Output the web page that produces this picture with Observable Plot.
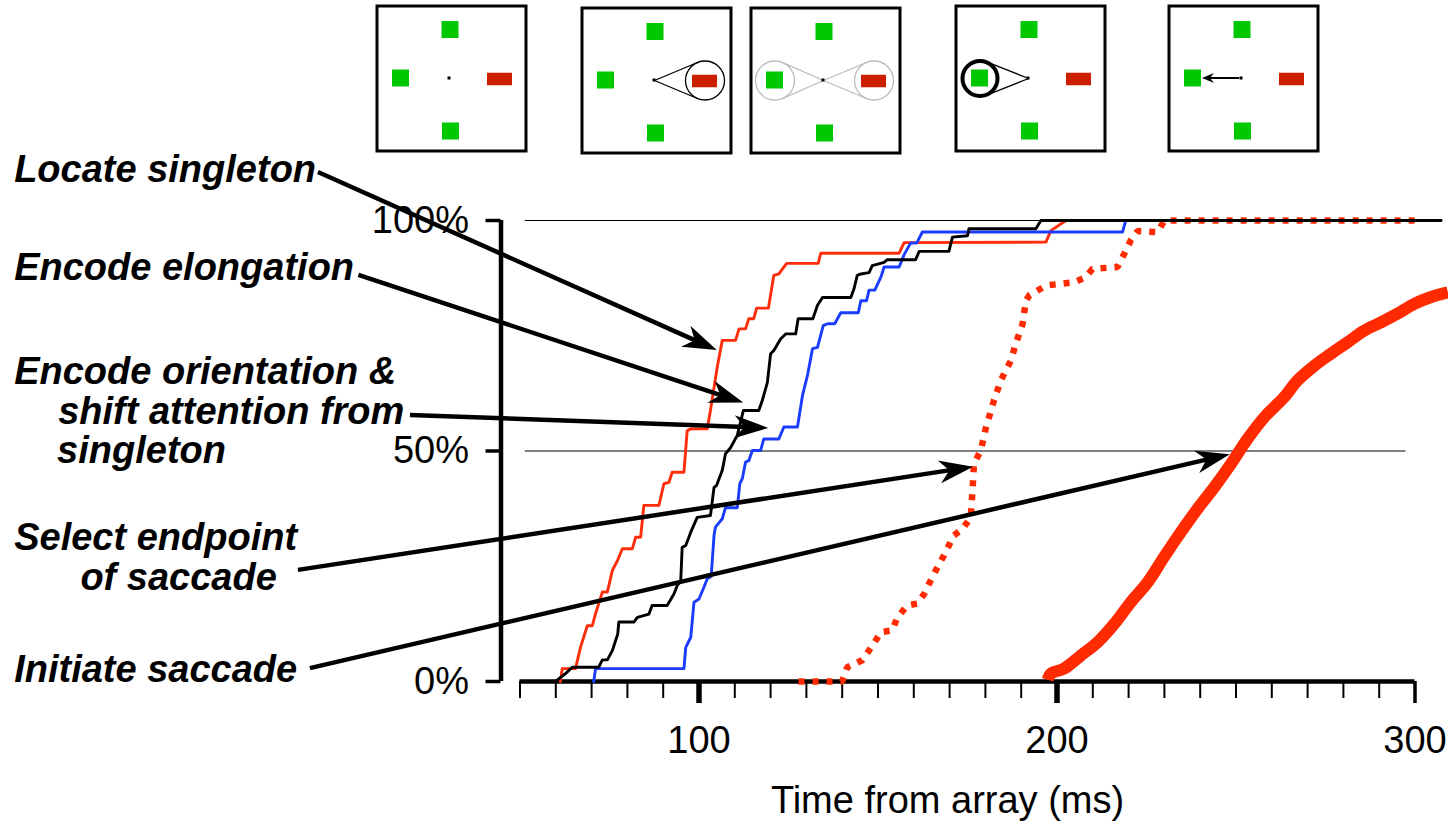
<!DOCTYPE html>
<html>
<head>
<meta charset="utf-8">
<script src="https://cdn.jsdelivr.net/npm/d3@7"></script>
<script src="https://cdn.jsdelivr.net/npm/@observablehq/plot@0.6"></script>
<style>
  html, body { margin: 0; padding: 0; background: #fff; }
  #chart svg { display: block; }
</style>
</head>
<body>
<div id="chart"></div>
<script>
// ---------------- DATA ----------------
// Cumulative % of trials vs time from array (ms)
const locateT = [61.3, 61.8, 65.5, 66.9, 68.8, 70.2, 71.1, 73.0, 74.4, 75.8, 77.2, 78.6, 81.4, 82.3, 83.7, 84.6, 88.8, 90.2, 91.6, 92.5, 95.8, 96.7, 97.7, 102.3, 103.2, 105.1, 106.5, 110.2, 111.2, 113.0, 113.9, 115.3, 116.1, 119.4, 120.9, 122.3, 124.5, 133.3, 134.0, 155.9, 157.3, 196.9, 198.3, 202.5, 300];
const locateP = [0, 2.8, 2.8, 7.4, 12.1, 12.1, 14.7, 19.4, 19.4, 24.1, 26.2, 28.8, 28.8, 31.3, 31.3, 38.2, 38.2, 42.9, 43.2, 45.4, 45.4, 54.4, 54.8, 54.8, 58.8, 68.2, 74.0, 74.0, 76.5, 76.5, 78.7, 78.7, 81.0, 81.0, 88.1, 88.4, 90.7, 90.7, 92.9, 92.9, 95.2, 95.3, 97.8, 100, 100];

const elongT = [59.9, 62.7, 64.6, 72.0, 73.0, 74.4, 75.8, 77.3, 77.6, 81.8, 82.8, 86.0, 86.9, 91.1, 93.0, 93.9, 94.9, 95.3, 96.3, 97.7, 99.5, 103.2, 104.2, 104.9, 106.5, 107.4, 108.8, 110.7, 112.4, 116.7, 117.7, 119.1, 120.0, 120.9, 122.8, 124.2, 127.0, 127.7, 131.8, 133.1, 134.5, 142.4, 143.3, 144.2, 145.2, 147.5, 148.4, 151.7, 152.6, 160.5, 161.5, 169.8, 170.8, 175.0, 175.4, 194.1, 195.5, 307.3];
const elongP = [0, 1.7, 3.1, 3.1, 4.7, 4.7, 6.7, 10.3, 12.9, 12.9, 13.9, 14.6, 16.5, 16.5, 19.0, 20.8, 21.9, 29.1, 29.5, 32.4, 35.6, 36.0, 42.1, 42.5, 45.8, 49.4, 50.7, 53.4, 58.8, 58.8, 61.0, 64.9, 71.1, 71.8, 74.3, 75.4, 75.4, 78.7, 78.7, 81.6, 83.3, 83.3, 85.2, 88.1, 88.4, 88.7, 90.2, 90.9, 91.5, 91.5, 93.3, 93.3, 96.4, 96.7, 98.2, 98.2, 100, 100];

const orientT = [70.6, 71.1, 95.8, 96.3, 97.7, 98.6, 100.0, 101.4, 102.3, 103.4, 104.2, 104.6, 106.5, 107.4, 110.7, 111.4, 112.1, 113.0, 113.9, 114.9, 117.2, 118.1, 122.3, 123.7, 127.5, 128.9, 130.3, 131.7, 133.1, 134.7, 135.9, 137.9, 139.6, 144.5, 145.2, 146.8, 147.5, 149.1, 150.8, 151.7, 155.9, 157.3, 159.1, 160.8, 162.4, 218.3, 219.2, 300];
const orientP = [0, 2.8, 2.8, 7.4, 9.6, 17.2, 17.9, 20.5, 22.3, 22.8, 31.7, 33.5, 35.3, 37.7, 37.7, 42.9, 44.0, 47.6, 47.9, 50.1, 50.1, 52.6, 52.6, 55.2, 55.2, 62.0, 66.4, 72.2, 72.5, 77.2, 77.6, 77.6, 80.0, 80.0, 82.6, 82.6, 84.9, 84.9, 87.7, 89.9, 89.9, 92.6, 95.1, 95.1, 97.5, 97.5, 100, 100];

const selectT = [127.8, 140.0, 141.4, 145.6, 148.9, 150.8, 154.0, 155.4, 158.2, 161.0, 162.9, 164.7, 166.6, 168.4, 171.2, 173.6, 175.9, 176.4, 176.8, 178.7, 180.1, 182.4, 184.3, 187.1, 188.5, 190.4, 191.3, 192.2, 196.9, 204.8, 208.0, 209.9, 216.9, 218.8, 220.6, 222.5, 228.1, 230.0, 300];
const selectP = [0, 0, 3.1, 4.6, 8.3, 10.7, 11.1, 13.9, 16.5, 16.9, 19.0, 21.9, 24.8, 27.3, 31.7, 33.1, 35.6, 41.4, 47.2, 50.1, 54.9, 61.0, 65.3, 69.6, 73.3, 77.6, 82.6, 83.7, 85.9, 86.6, 87.7, 89.5, 89.9, 92.8, 95.7, 97.7, 97.5, 100, 100];

const initiateT = [197.4, 198.3, 202.0, 206.6, 211.3, 216.0, 220.6, 225.3, 229.9, 234.6, 239.3, 243.9, 248.6, 253.2, 257.9, 263.5, 267.2, 271.9, 276.5, 281.2, 285.8, 290.5, 295.2, 299.8, 304.5, 309.2];
const initiateP = [0.4, 1.7, 2.8, 5.6, 8.5, 12.5, 17.2, 21.5, 27.0, 32.4, 37.5, 42.1, 47.2, 52.6, 57.3, 61.7, 65.3, 68.5, 71.1, 73.6, 76.1, 77.9, 79.8, 81.9, 83.4, 84.4];

// axis ticks
const xMinorTicks = d3.range(50, 301, 10);
const xMajorTicks = [100, 200];
const xEndTick = [300];
const yTicks = [0, 50, 100];
const xTitle = "Time from array (ms)";

// reference lines (value, extent in ms)
const refY = [100, 50];
const refX1 = [51.5, 51.5];
const refX2 = [307.3, 297.5];

// stage labels (text lines, anchored in chart units: ms, %)
const labelLines = ["Locate singleton", "Encode elongation", "Encode orientation &", "shift attention from", "singleton", "Select endpoint", "of saccade", "Initiate saccade"];
const labelX = [-91.3, -91.3, -91.3, -79.0, -79.3, -91.3, -72.8, -91.3];
const labelY = [108.35, 87.2, 64.64, 55.75, 47.29, 28.63, 19.74, 0];

// annotation arrows (from label to curve), chart units
const arrowX1 = [-6.3, 5.0, 19.4, -11.9, -8.55];
const arrowY1 = [110.4, 88.1, 57.7, 24.1, 2.8];
const arrowX2 = [105.1, 112.5, 119.5, 176.7, 248.4];
const arrowY2 = [71.8, 60.4, 54.9, 46.5, 49.2];

// ---------------- helpers ----------------
const FONT = "'Liberation Sans', Arial, Helvetica, sans-serif";
const zipSeries = (T, P) => T.map((t, i) => ({t, p: P[i]}));

function arrowLayer(rows, {shaft, headLength, headWidth, notch}) {
  return (index, scales) => {
    const g = d3.create("svg:g");
    for (const a of rows) {
      const x1 = scales.x(a.x1), y1 = scales.y(a.y1);
      const x2 = scales.x(a.x2), y2 = scales.y(a.y2);
      const len = Math.hypot(x2 - x1, y2 - y1);
      const ux = (x2 - x1) / len, uy = (y2 - y1) / len;
      const nx = -uy, ny = ux;
      const bx = x2 - ux * notch, by = y2 - uy * notch;
      g.append("line")
        .attr("x1", x1).attr("y1", y1)
        .attr("x2", bx + ux).attr("y2", by + uy)
        .attr("stroke", "black").attr("stroke-width", shaft);
      const pts = [
        [x2, y2],
        [x2 - ux * headLength + nx * headWidth, y2 - uy * headLength + ny * headWidth],
        [bx, by],
        [x2 - ux * headLength - nx * headWidth, y2 - uy * headLength - ny * headWidth]
      ];
      g.append("path").attr("d", "M" + pts.map(p => p.join(",")).join("L") + "Z").attr("fill", "black");
    }
    return g.node();
  };
}

// ---------------- icon strip ----------------
const panelLeft = [377, 582, 751, 956, 1169];
const panelTop = [6, 8, 8, 6, 6];
const PW = 149, PH = 145;
const fix = {cx: 72, cy: 72};
const stimItems = [
  {name: "top", cx: 73, cy: 23.5, w: 17, h: 17, color: "#00c800"},
  {name: "bottom", cx: 73.5, cy: 125, w: 17, h: 17, color: "#00c800"},
  {name: "left", cx: 23.5, cy: 72, w: 17, h: 17, color: "#00c800"},
  {name: "target", cx: 122.5, cy: 73, w: 25, h: 12.5, color: "#cc1f00"}
];
const panelFocus = [[], ["target"], ["left", "target"], ["left"], []];
const panelFocusStyle = [null, "thin", "grey", "thick", null];

const squares = [];
panelLeft.forEach((L, i) => {
  const T = panelTop[i];
  for (const s of stimItems) squares.push({x1: L + s.cx - s.w / 2, x2: L + s.cx + s.w / 2, y1: T + s.cy - s.h / 2, y2: T + s.cy + s.h / 2, color: s.color});
  squares.push({x1: L + fix.cx - 1.5, x2: L + fix.cx + 1.5, y1: T + fix.cy - 1.5, y2: T + fix.cy + 1.5, color: "black"});
});
const frames = panelLeft.map((L, i) => ({x1: L, x2: L + PW, y1: panelTop[i], y2: panelTop[i] + PH}));

const circles = [], cones = [];
panelFocus.forEach((names, i) => {
  const L = panelLeft[i], T = panelTop[i], style = panelFocusStyle[i];
  for (const n of names) {
    const s = stimItems.find(d => d.name === n);
    const r = style === "thick" ? 18 : 19.5;
    const cx = L + s.cx, cy = T + fix.cy;
    const px = L + fix.cx, py = T + fix.cy;
    circles.push({x: cx, y: cy, r, style});
    const d = Math.abs(cx - px), dir = Math.sign(cx - px);
    const th = Math.acos(r / d);
    for (const sgn of [-1, 1]) {
      cones.push({x1: px, y1: py, x2: cx - dir * r * Math.cos(th), y2: cy + sgn * r * Math.sin(th), style});
    }
  }
});
const saccade = [{x1: panelLeft[4] + 70, y1: panelTop[4] + fix.cy, x2: panelLeft[4] + 33, y2: panelTop[4] + fix.cy}];

const icons = Plot.plot({
  width: 1448, height: 160,
  marginTop: 0, marginRight: 0, marginBottom: 0, marginLeft: 0,
  x: {domain: [0, 1448], range: [0, 1448], axis: null},
  y: {domain: [0, 160], range: [0, 160], axis: null},
  style: {background: "white", overflow: "visible"},
  marks: [
    Plot.rect(frames, {x1: "x1", x2: "x2", y1: "y1", y2: "y2", fill: "none", stroke: "black", strokeWidth: 3}),
    Plot.link(cones.filter(d => d.style === "grey"), {x1: "x1", y1: "y1", x2: "x2", y2: "y2", stroke: "#bdbdbd", strokeWidth: 1.3}),
    Plot.link(cones.filter(d => d.style !== "grey"), {x1: "x1", y1: "y1", x2: "x2", y2: "y2", stroke: "black", strokeWidth: 1.3}),
    Plot.rect(squares, {x1: "x1", x2: "x2", y1: "y1", y2: "y2", fill: "color"}),
    Plot.dot(circles.filter(d => d.style === "grey"), {x: "x", y: "y", r: 19.5, stroke: "#bdbdbd", strokeWidth: 1.3, fill: "none"}),
    Plot.dot(circles.filter(d => d.style === "thin"), {x: "x", y: "y", r: 19.5, stroke: "black", strokeWidth: 1.3, fill: "none"}),
    Plot.dot(circles.filter(d => d.style === "thick"), {x: "x", y: "y", r: 17.5, stroke: "black", strokeWidth: 4, fill: "none"}),
    arrowLayer(saccade, {shaft: 2, headLength: 12, headWidth: 5, notch: 8})
  ]
});

// ---------------- main chart ----------------
const refRows = refY.map((y, i) => ({y, x1: refX1[i], x2: refX2[i]}));
const labelRows = labelLines.map((text, i) => ({text, x: labelX[i], y: labelY[i]}));
const arrowRows = arrowX1.map((x1, i) => ({x1, y1: arrowY1[i], x2: arrowX2[i], y2: arrowY2[i]}));

const main = Plot.plot({
  width: 1448, height: 667,
  marginLeft: 519.5, marginRight: 33.5, marginTop: 60, marginBottom: 146,
  x: {domain: [50, 300], label: null},
  y: {domain: [0, 100], label: null},
  style: {fontFamily: FONT, background: "white", color: "black", overflow: "visible"},
  marks: [
    Plot.ruleY(refRows, {y: "y", x1: "x1", x2: "x2", stroke: "black", strokeWidth: 1.2}),
    Plot.ruleY([0], {x1: 50, x2: 300, stroke: "black", strokeWidth: 4.5}),
    Plot.ruleX([50], {y1: 0, y2: 100, dx: -19, stroke: "black", strokeWidth: 4.5}),
    Plot.axisX({ticks: xMinorTicks, tickSize: 17, tickFormat: () => "", strokeWidth: 2, label: null}),
    Plot.axisX({ticks: xMajorTicks, tickSize: 22, tickPadding: 23, strokeWidth: 5.5, fontSize: 38, label: null}),
    Plot.axisX({ticks: xEndTick, tickSize: 22, tickPadding: 23, strokeWidth: 3.5, fontSize: 38, label: null}),
    Plot.axisY({ticks: yTicks, tickSize: 15, tickPadding: 17, dx: -19, strokeWidth: 3.5, fontSize: 38, tickFormat: d => `${d}%`, label: null}),
    Plot.text([xTitle], {frameAnchor: "bottom", dx: -20, dy: 131, lineAnchor: "bottom", fontSize: 38, fill: "black"}),
    Plot.line(zipSeries(locateT, locateP), {x: "t", y: "p", stroke: "#ff2d0a", strokeWidth: 2.9}),
    Plot.line(zipSeries(orientT, orientP), {x: "t", y: "p", stroke: "#1a3cff", strokeWidth: 2.9}),
    Plot.line(zipSeries(selectT, selectP), {x: "t", y: "p", stroke: "#ff2a00", strokeWidth: 6.5, strokeDasharray: "6,8", strokeLinecap: "butt", strokeLinejoin: "miter"}),
    Plot.line(zipSeries(elongT, elongP), {x: "t", y: "p", stroke: "black", strokeWidth: 2.9}),
    Plot.line(zipSeries(initiateT, initiateP), {x: "t", y: "p", curve: "catmull-rom", stroke: "#ff2a00", strokeWidth: 12, strokeLinecap: "butt"}),
    arrowLayer(arrowRows, {shaft: 4.5, headLength: 34, headWidth: 11.5, notch: 24}),
    Plot.text(labelRows, {x: "x", y: "y", text: "text", textAnchor: "start", lineAnchor: "bottom", fontSize: 38, fontWeight: "bold", fontStyle: "italic", fill: "black"})
  ]
});

const root = document.getElementById("chart");
root.append(icons, main);
</script>
</body>
</html>
